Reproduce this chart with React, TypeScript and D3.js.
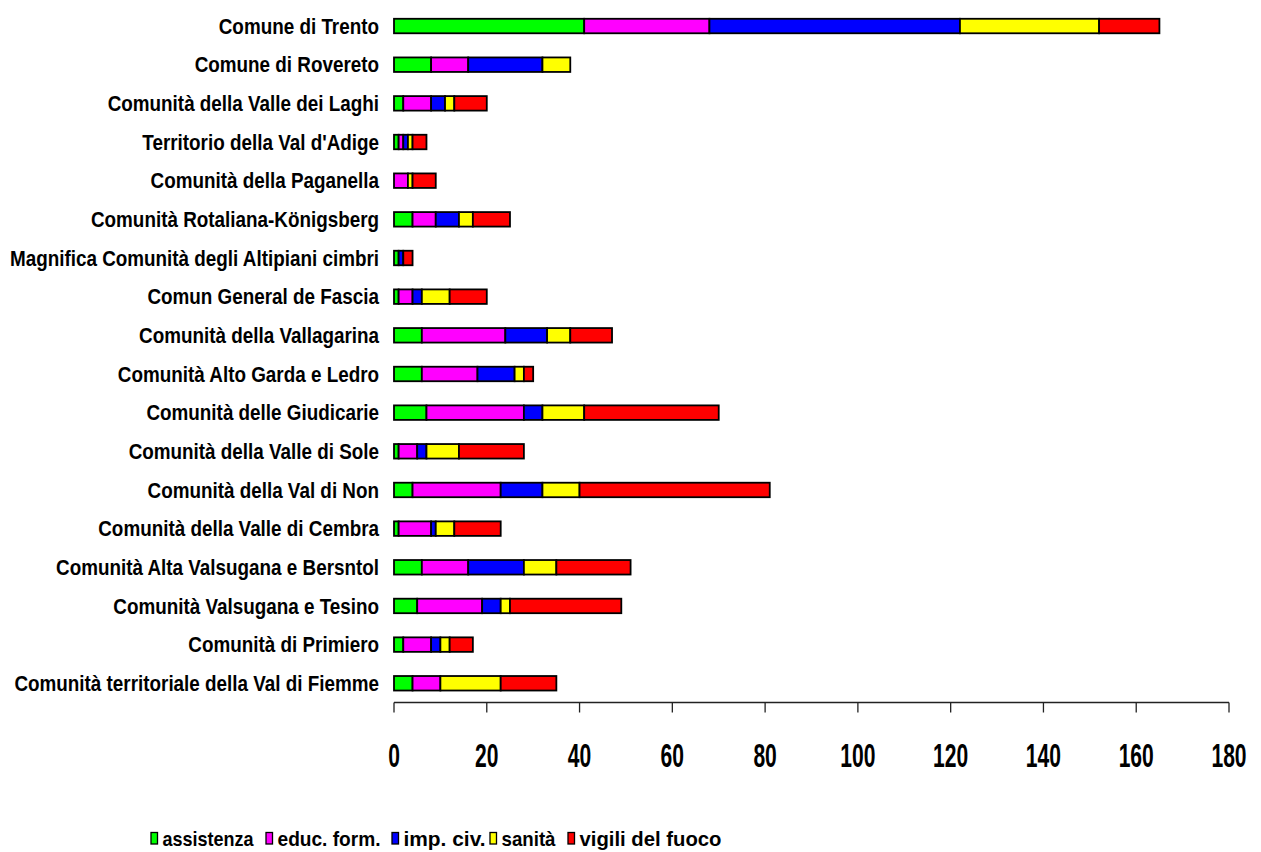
import React from "react";
import * as d3 from "d3";

const categories: string[] = [
  "Comune di Trento",
  "Comune di Rovereto",
  "Comunità della Valle dei Laghi",
  "Territorio della Val d'Adige",
  "Comunità della Paganella",
  "Comunità Rotaliana-Königsberg",
  "Magnifica Comunità degli Altipiani cimbri",
  "Comun General de Fascia",
  "Comunità della Vallagarina",
  "Comunità Alto Garda e Ledro",
  "Comunità delle Giudicarie",
  "Comunità della Valle di Sole",
  "Comunità della Val di Non",
  "Comunità della Valle di Cembra",
  "Comunità Alta Valsugana e Bersntol",
  "Comunità Valsugana e Tesino",
  "Comunità di Primiero",
  "Comunità territoriale della Val di Fiemme",
];

const seriesNames: string[] = ["assistenza", "educ. form.", "imp. civ.", "sanità", "vigili del fuoco"];
const seriesColors: string[] = ["#00FF00", "#FF00FF", "#0000FF", "#FFFF00", "#FF0000"];

const assistenza: number[] = [41, 8, 2, 1, 0, 4, 1, 1, 6, 6, 7, 1, 4, 1, 6, 5, 2, 4];
const educForm: number[] = [27, 8, 6, 1, 3, 5, 0, 3, 18, 12, 21, 4, 19, 7, 10, 14, 6, 6];
const impCiv: number[] = [54, 16, 3, 1, 0, 5, 1, 2, 9, 8, 4, 2, 9, 1, 12, 4, 2, 0];
const sanita: number[] = [30, 6, 2, 1, 1, 3, 0, 6, 5, 2, 9, 7, 8, 4, 7, 2, 2, 13];
const vigili: number[] = [13, 0, 7, 3, 5, 8, 2, 8, 9, 2, 29, 14, 41, 10, 16, 24, 5, 12];

const xTicks: number[] = [0, 20, 40, 60, 80, 100, 120, 140, 160, 180];

const seriesValues = [assistenza, educForm, impCiv, sanita, vigili];

// Legend layout (style)
const legendSquareX = [151, 266, 392, 490, 568];
const legendTextW = [91, 103, 82, 54, 142];

export default function App() {
  const W = 1261;
  const H = 852;
  const rows = categories.map((c, i) => {
    const r: any = { cat: c };
    seriesNames.forEach((s, k) => (r[s] = seriesValues[k][i]));
    return r;
  });
  const stacked = d3.stack<any>().keys(seriesNames)(rows);

  const x = d3.scaleLinear().domain([0, 180]).range([394, 1229]);
  const y = d3
    .scaleBand<string>()
    .domain(categories)
    .range([6.7, 702.6])
    .paddingInner(0.625)
    .paddingOuter(0.3125);

  const axisY = 702.5;
  const font = "'Liberation Sans', Arial, Helvetica, sans-serif";

  return (
    <svg
      width={W}
      height={H}
      style={{ position: "absolute", left: 0, top: 0, background: "#fff" }}
      fontFamily={font}
      fontWeight="bold"
    >
      {stacked.map((layer, k) => (
        <g key={layer.key} fill={seriesColors[k]} stroke="#000" strokeWidth={1.8}>
          {layer.map((d, i) => {
            const w = x(d[1]) - x(d[0]);
            if (w <= 0) return null;
            return (
              <rect
                key={i}
                x={x(d[0])}
                y={y(categories[i])!}
                width={w}
                height={y.bandwidth()}
              />
            );
          })}
        </g>
      ))}

      {categories.map((c) => (
        <text
          key={c}
          transform={`translate(379, ${y(c)! + y.bandwidth() / 2 + 7.8}) scale(0.835, 1)`}
          textAnchor="end"
          fontSize={22.6}
          fill="#000"
        >
          {c}
        </text>
      ))}

      <line x1={x(0)} x2={x(180)} y1={axisY} y2={axisY} stroke="#222" strokeWidth={1.3} />
      {xTicks.map((t) => (
        <g key={t}>
          <line x1={x(t)} x2={x(t)} y1={axisY} y2={axisY + 10} stroke="#222" strokeWidth={1.3} />
          <text
            transform={`translate(${x(t)}, 766.7) scale(0.62, 1)`}
            textAnchor="middle"
            fontSize={34}
            fill="#000"
          >
            {t}
          </text>
        </g>
      ))}

      {seriesNames.map((s, k) => (
        <g key={s}>
          <rect
            x={legendSquareX[k]}
            y={832.5}
            width={6.5}
            height={11.5}
            fill={seriesColors[k]}
            stroke="#000"
            strokeWidth={1.3}
          />
          <text
            x={legendSquareX[k] + 11.5}
            y={845.5}
            fontSize={21}
            textLength={legendTextW[k]}
            lengthAdjust="spacingAndGlyphs"
            fill="#000"
          >
            {s}
          </text>
        </g>
      ))}
    </svg>
  );
}
